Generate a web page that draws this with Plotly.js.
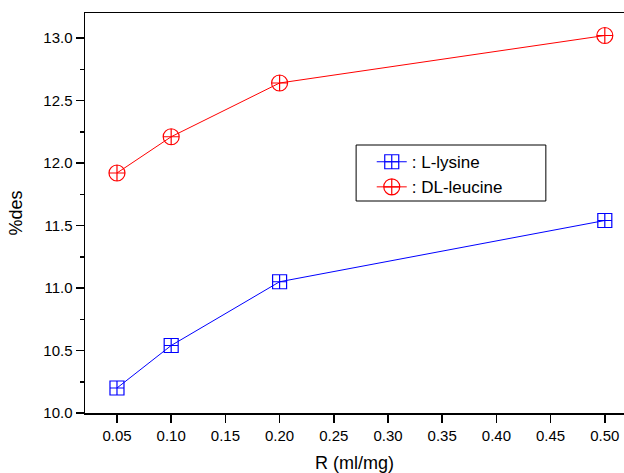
<!DOCTYPE html>
<html>
<head>
<meta charset="utf-8">
<script src="https://cdn.plot.ly/plotly-3.0.1.min.js"></script>
<style>html,body{margin:0;padding:0;background:#fff}#chart{width:624px;height:473px}</style>
</head>
<body>
<div id="chart"></div>
<script>
const R = [0.05, 0.10, 0.20, 0.50];
const lysine = [10.20, 10.54, 11.05, 11.54];
const leucine = [11.92, 12.21, 12.64, 13.02];
const yTicks = [10.0, 10.5, 11.0, 11.5, 12.0, 12.5, 13.0];
const yTickText = ['10.0', '10.5', '11.0', '11.5', '12.0', '12.5', '13.0'];
const xTicks = [0.05, 0.10, 0.15, 0.20, 0.25, 0.30, 0.35, 0.40, 0.45, 0.50];
const xTickText = ['0.05', '0.10', '0.15', '0.20', '0.25', '0.30', '0.35', '0.40', '0.45', '0.50'];

const traces = [
  {x: R, y: lysine, name: ': L-lysine', mode: 'lines+markers', type: 'scatter',
   line: {color: '#0000ff', width: 1},
   marker: {symbol: 'square-cross-open', size: 14, color: '#0000ff', line: {width: 1.2, color: '#0000ff'}}},
  {x: R, y: leucine, name: ': DL-leucine', mode: 'lines+markers', type: 'scatter',
   line: {color: '#ff0000', width: 1},
   marker: {symbol: 'circle-cross-open', size: 16, color: '#ff0000', line: {width: 1.2, color: '#ff0000'}}}
];

const layout = {
  width: 624, height: 473,
  margin: {l: 85, r: 0, t: 13, b: 60},
  paper_bgcolor: '#fff', plot_bgcolor: '#fff',
  font: {family: 'Liberation Sans, Arial, sans-serif', color: '#000', size: 15},
  showlegend: true,
  legend: {x: 0.532, y: 0.672, xanchor: 'left', yanchor: 'top',
    borderwidth: 0, bgcolor: 'rgba(0,0,0,0)',
    font: {size: 17, family: 'Liberation Sans, Arial, sans-serif'},
    tracegroupgap: 0},
  shapes: [{type: 'rect', xref: 'paper', yref: 'paper', x0: 0.503, x1: 0.855, y0: 0.53, y1: 0.67,
    line: {color: '#000', width: 1}, fillcolor: 'rgba(0,0,0,0)', layer: 'below'}],
  xaxis: {range: [0.0205, 0.5177], tickvals: xTicks, ticktext: xTickText,
    showgrid: false, zeroline: false, showline: true, linecolor: '#000', linewidth: 1.5,
    mirror: true, ticks: 'outside', ticklen: 8, tickwidth: 1.5, tickcolor: '#000',
    tickfont: {size: 15},
    title: {text: 'R (ml/mg)', font: {size: 18}, standoff: 14}},
  yaxis: {range: [10, 13.2], tickvals: yTicks, ticktext: yTickText,
    showgrid: false, zeroline: false, showline: true, linecolor: '#000', linewidth: 1.5,
    ticks: 'outside', ticklen: 8, tickwidth: 1.5, tickcolor: '#000',
    tickfont: {size: 15},
    minor: {dtick: 0.25, ticks: 'outside', ticklen: 4, tickwidth: 1.5, tickcolor: '#000', showgrid: false},
    title: {text: '%des', font: {size: 18}, standoff: 16}}
};

Plotly.newPlot('chart', traces, layout, {displayModeBar: false, staticPlot: true});
</script>
</body>
</html>
